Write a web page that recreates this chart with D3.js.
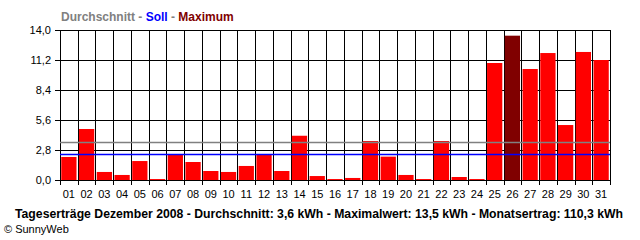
<!DOCTYPE html>
<html lang="de">
<head>
<meta charset="UTF-8">
<title>Tageserträge Dezember 2008</title>
<script src="https://cdn.jsdelivr.net/npm/d3@7"></script>
<style>
  body { margin: 0; background: #fff; }
  text { font-family: "Liberation Sans", Arial, sans-serif; }
</style>
</head>
<body>
<svg id="chart" width="640" height="240"></svg>
<script>
// Tageswerte in kWh
var days = ["01","02","03","04","05","06","07","08","09","10","11","12","13","14","15","16",
            "17","18","19","20","21","22","23","24","25","26","27","28","29","30","31"];
var values = [2.15, 4.76, 0.75, 0.47, 1.77, 0.09, 2.4, 1.68, 0.84, 0.75, 1.31, 2.4, 0.84, 4.13, 0.37, 0.09,
              0.19, 3.64, 2.18, 0.47, 0.09, 3.64, 0.28, 0.09, 10.92, 13.47, 10.36, 11.85, 5.13, 11.95, 11.2];
var yTicks = [0, 2.8, 5.6, 8.4, 11.2, 14];
var average = 3.56;
var target = 2.4;

var svg = d3.select("#chart");
var pLeft = 60, pRight = 610, pTop = 30, pBottom = 180;

var x = d3.scaleBand().domain(days).range([pLeft, pRight]).paddingInner(0.14).paddingOuter(0.07);
var y = d3.scaleLinear().domain([0, 14]).range([pBottom, pTop]);
var fmt = function (v) { return d3.format(".1f")(v).replace(".", ","); };

// horizontale Gitterlinien
svg.selectAll("line.h").data(yTicks).enter().append("line")
  .attr("x1", pLeft - 5).attr("x2", pRight)
  .attr("y1", function (d) { return Math.round(y(d)) + 0.5; })
  .attr("y2", function (d) { return Math.round(y(d)) + 0.5; })
  .attr("stroke", "#000").attr("stroke-width", 1);

// vertikale Gitterlinien an den Tagesgrenzen
var bounds = d3.range(days.length + 1);
svg.selectAll("line.v").data(bounds).enter().append("line")
  .attr("x1", function (d) { return Math.round(pLeft + d * (pRight - pLeft) / days.length) + 0.5; })
  .attr("x2", function (d) { return Math.round(pLeft + d * (pRight - pLeft) / days.length) + 0.5; })
  .attr("y1", pTop).attr("y2", pBottom + 5)
  .attr("stroke", "#000").attr("stroke-width", 1);

// Balken
var maxVal = d3.max(values);
svg.selectAll("rect.bar").data(values).enter().append("rect")
  .attr("x", function (d, i) { return x(days[i]); })
  .attr("width", x.bandwidth())
  .attr("y", function (d) { return y(d); })
  .attr("height", function (d) { return pBottom - y(d); })
  .attr("fill", function (d) { return d === maxVal ? "#800000" : "#ff0000"; });

// Durchschnitt und Soll
svg.append("line")
  .attr("x1", pLeft).attr("x2", pRight)
  .attr("y1", Math.round(y(average)) + 0.5).attr("y2", Math.round(y(average)) + 0.5)
  .attr("stroke", "#808080").attr("stroke-width", 1.5);
svg.append("line")
  .attr("x1", pLeft).attr("x2", pRight)
  .attr("y1", Math.round(y(target)) + 0.5).attr("y2", Math.round(y(target)) + 0.5)
  .attr("stroke", "#0000ff").attr("stroke-width", 1.5);

// Y-Beschriftung
svg.selectAll("text.yl").data(yTicks).enter().append("text")
  .attr("x", 51).attr("y", function (d) { return y(d) + 4; })
  .attr("text-anchor", "end").attr("font-size", 11)
  .text(fmt);

// X-Beschriftung
svg.selectAll("text.xl").data(days).enter().append("text")
  .attr("x", function (d) { return x(d) + x.bandwidth() / 2; })
  .attr("y", 198).attr("text-anchor", "middle").attr("font-size", 11)
  .text(function (d) { return d; });

// Legende oben
var leg = svg.append("text").attr("x", 61).attr("y", 21)
  .attr("font-size", 12).attr("font-weight", "bold");
leg.append("tspan").attr("fill", "#808080").text("Durchschnitt - ");
leg.append("tspan").attr("fill", "#0000ff").text("Soll");
leg.append("tspan").attr("fill", "#808080").text(" - ");
leg.append("tspan").attr("fill", "#800000").text("Maximum");

// Fusszeile
svg.append("text").attr("x", 15).attr("y", 218)
  .attr("font-size", 12).attr("font-weight", "bold")
  .attr("textLength", 608).attr("lengthAdjust", "spacingAndGlyphs")
  .text("Tageserträge Dezember 2008 - Durchschnitt: 3,6 kWh - Maximalwert: 13,5 kWh - Monatsertrag: 110,3 kWh");
svg.append("text").attr("x", 4).attr("y", 233).attr("font-size", 11)
  .text("© SunnyWeb");
</script>
</body>
</html>
